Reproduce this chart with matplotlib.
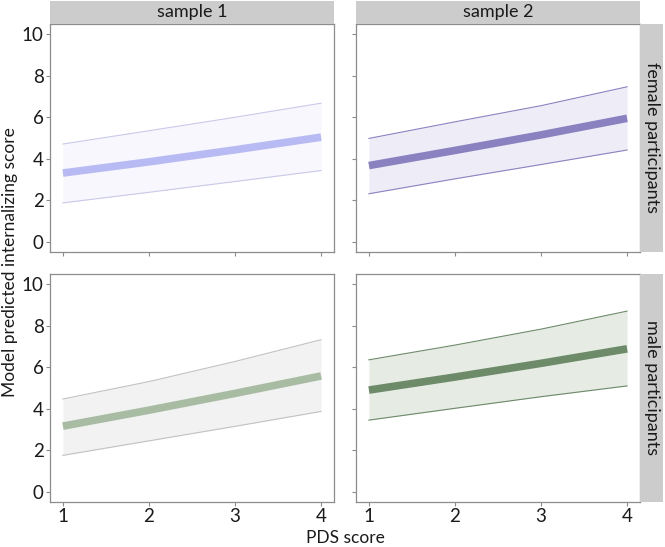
import matplotlib.pyplot as plt
import numpy as np

plt.rcParams['font.family'] = ['Lato', 'DejaVu Sans']

pds = [1, 2, 3, 4]
samples = ['sample 1', 'sample 2']
groups = ['female participants', 'male participants']

# predicted values per (group, sample): mean, lower, upper
female_s1_mean = [3.31, 3.85, 4.43, 5.04]
female_s1_low = [1.87, 2.38, 2.90, 3.43]
female_s1_up = [4.71, 5.35, 6.00, 6.68]

female_s2_mean = [3.67, 4.40, 5.15, 5.95]
female_s2_low = [2.31, 3.03, 3.72, 4.42]
female_s2_up = [4.98, 5.78, 6.56, 7.47]

male_s1_mean = [3.16, 3.93, 4.74, 5.58]
male_s1_low = [1.75, 2.45, 3.15, 3.87]
male_s1_up = [4.47, 5.31, 6.28, 7.33]

male_s2_mean = [4.90, 5.53, 6.19, 6.89]
male_s2_low = [3.45, 4.02, 4.58, 5.10]
male_s2_up = [6.36, 7.07, 7.84, 8.71]

panels = [
    [(female_s1_mean, female_s1_low, female_s1_up, '#b8bbf3', '#f7f7fd', '#c9c9ea'),
     (female_s2_mean, female_s2_low, female_s2_up, '#8a82c0', '#eeedf7', '#8a82c0')],
    [(male_s1_mean, male_s1_low, male_s1_up, '#a8bca3', '#f2f2f2', '#c2c2c2'),
     (male_s2_mean, male_s2_low, male_s2_up, '#6d8a69', '#e6ebe4', '#6d8a69')],
]

W, H = 665, 547
fig = plt.figure(figsize=(W / 100, H / 100), dpi=100)

lefts = [50, 356]
tops = [24, 274]
pw, ph = 284, 228
strip = 23
border = '#8c8c8c'
ink = '#1a1a1a'


def strip_axes(rect, label, rot):
    sax = fig.add_axes(rect)
    sax.set_facecolor('#cccccc')
    sax.set_xticks([])
    sax.set_yticks([])
    for s in sax.spines.values():
        s.set_visible(False)
    sax.text(0.5, 0.5, label, ha='center', va='center', rotation=rot,
             fontsize=13, color=ink, transform=sax.transAxes)


for r in range(2):
    for c in range(2):
        x0, y0 = lefts[c], tops[r]
        ax = fig.add_axes([x0 / W, 1 - (y0 + ph) / H, pw / W, ph / H])
        mean, low, up, lc, fc, ec = panels[r][c]
        ax.fill_between(pds, low, up, color=fc, lw=0)
        ax.plot(pds, low, color=ec, lw=0.8)
        ax.plot(pds, up, color=ec, lw=0.8)
        ax.plot(pds, mean, color=lc, lw=5.5, solid_capstyle='butt',
                solid_joinstyle='round')
        ax.set_xlim(0.85, 4.15)
        ax.set_ylim(-0.5, 10.5)
        ax.set_xticks(pds)
        ax.set_yticks([0, 2, 4, 6, 8, 10])
        for s in ax.spines.values():
            s.set_color(border)
            s.set_linewidth(0.9)
        ax.tick_params(colors=border, labelcolor=ink, labelsize=13.5,
                       length=3, width=0.8, pad=1.5)
        if c == 1:
            ax.tick_params(labelleft=False)
        if r == 0:
            ax.tick_params(labelbottom=False)
            strip_axes([x0 / W, 1 - y0 / H, pw / W, strip / H], samples[c], 0)
        if c == 1:
            strip_axes([(x0 + pw) / W, 1 - (y0 + ph) / H, strip / W, ph / H],
                       groups[r], -90)

fig.text(345 / W, 1 - 538 / H, 'PDS score', ha='center', va='center',
         fontsize=12.5, color=ink)
fig.text(10 / W, 1 - 262 / H, 'Model predicted internalizing score', ha='center',
         va='center', rotation=90, fontsize=12.5, color=ink)

fig.savefig('out.png', dpi=100)
